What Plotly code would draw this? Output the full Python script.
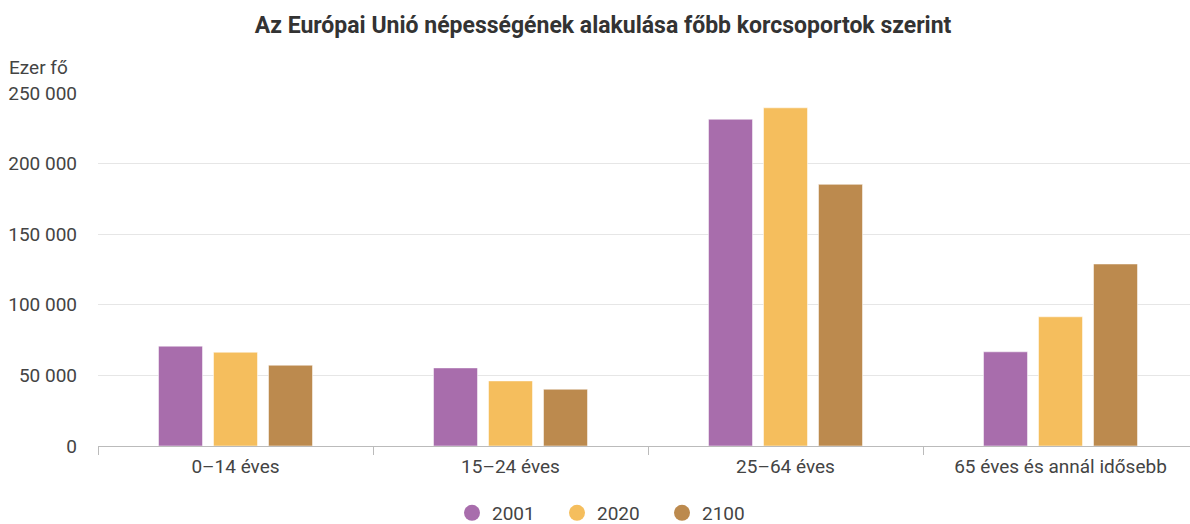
import plotly.graph_objects as go

categories = ["0\u201314 éves", "15\u201324 éves", "25\u201364 éves", "65 éves és annál idősebb"]
years = ["2001", "2020", "2100"]
values_2001 = [70700, 55300, 231400, 66700]
values_2020 = [66400, 46100, 239500, 91500]
values_2100 = [57200, 40200, 185300, 128900]
colors = ["#a86dac", "#f5be5d", "#bc8a4e"]
y_ticks = [0, 50000, 100000, 150000, 200000, 250000]

series = [values_2001, values_2020, values_2100]

fig = go.Figure()
for name, vals, col in zip(years, series, colors):
    fig.add_trace(go.Bar(
        x=categories, y=vals, name=name, showlegend=False, legendgroup=name,
        marker=dict(color=col, line=dict(color="rgba(255,255,255,0.5)", width=1)),
    ))
# legend entries with circular symbols
for name, col in zip(years, colors):
    fig.add_trace(go.Scatter(
        x=[None], y=[None], mode="markers", name=name, legendgroup=name,
        marker=dict(symbol="circle", color=col, size=20), showlegend=True,
    ))

W, H = 1190, 524
L, R, T, B = 98, 0, 93, 78
pw, ph = W - L - R, H - T - B

fig.update_layout(
    width=W, height=H,
    margin=dict(l=L, r=R, t=T, b=B, pad=0, autoexpand=False),
    paper_bgcolor="white", plot_bgcolor="white",
    font=dict(family="Roboto", color="#444444", size=16),
    separators=". ",
    barmode="group", bargap=0.4, bargroupgap=0.2,
    title=dict(
        text="<b>Az Európai Unió népességének alakulása főbb korcsoportok szerint</b>",
        x=603 / W, xanchor="center", xref="container",
        y=1 - 25 / H, yanchor="middle", yref="container",
        font=dict(size=23, color="#333333", family="Roboto"),
    ),
    showlegend=True,
    legend=dict(
        orientation="h", xref="container", x=452 / W, xanchor="left",
        yref="container", y=1 - 513 / H, yanchor="middle",
        font=dict(size=19, color="#444444"),
        itemsizing="trace", entrywidth=60, entrywidthmode="pixels",
        traceorder="normal", itemclick=False, itemdoubleclick=False,
    ),
    xaxis=dict(
        type="category", range=[-0.5, -0.5 + pw / 275.0], automargin=False,
        showgrid=False, showline=True, linecolor="#bbbbbb", linewidth=1,
        ticks="outside", tickson="boundaries", ticklen=8, tickcolor="#bbbbbb",
        tickfont=dict(size=19, color="#444444"),
        ticklabelstandoff=3,
        zeroline=False,
    ),
    yaxis=dict(
        range=[0, 250000], tickvals=y_ticks, tickformat=",d", automargin=False,
        showgrid=True, gridcolor="#e6e6e6", gridwidth=1,
        zeroline=False, showline=False, ticks="",
        tickfont=dict(size=19, color="#444444"),
        ticklabelstandoff=20,
    ),
    annotations=[dict(
        text="Ezer fő", xref="paper", yref="paper",
        x=(7 - L) / pw, xanchor="left", y=(446 - 68) / ph, yanchor="middle",
        showarrow=False, font=dict(size=19, color="#444444"),
    )],
)

fig.write_html(
    "out.html",
    config={"displayModeBar": False},
    post_script="document.body.style.margin='0';document.body.style.overflow='hidden';",
)
